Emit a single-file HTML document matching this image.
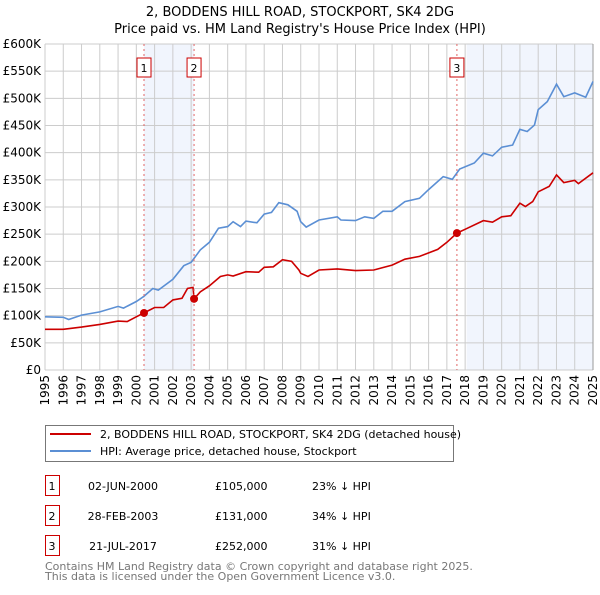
<!DOCTYPE html>
<html><head><meta charset="utf-8"><style>
body{margin:0;background:#fff;width:600px;height:590px;overflow:hidden}
svg text{font-family:"DejaVu Sans","Liberation Sans",sans-serif}
</style></head><body>
<svg id="chart" width="600" height="590" xmlns="http://www.w3.org/2000/svg">
<text x="300" y="16" font-size="13" text-anchor="middle">2, BODDENS HILL ROAD, STOCKPORT, SK4 2DG</text>
<text x="300" y="33" font-size="13" text-anchor="middle">Price paid vs. HM Land Registry's House Price Index (HPI)</text>
<g id="shade"></g><g id="grid"></g><g id="lines"></g><g id="marks"></g>
<g>
<rect x="45.5" y="425.5" width="408" height="36" fill="#fff" stroke="#777"/>
<line x1="50" y1="434" x2="91" y2="434" stroke="#cc0000" stroke-width="2"/>
<text x="100" y="438" font-size="11">2, BODDENS HILL ROAD, STOCKPORT, SK4 2DG (detached house)</text>
<line x1="50" y1="451" x2="91" y2="451" stroke="#5b8fd4" stroke-width="2"/>
<text x="100" y="455" font-size="11">HPI: Average price, detached house, Stockport</text>
</g>
<g id="table" font-size="11"></g>
<text x="45" y="570" font-size="11" fill="#777">Contains HM Land Registry data © Crown copyright and database right 2025.</text>
<text x="45" y="580" font-size="11" fill="#777">This data is licensed under the Open Government Licence v3.0.</text>
</svg>
<script>
const yTicks=[0,50,100,150,200,250,300,350,400,450,500,550,600];
const yTickLabels=["£0","£50K","£100K","£150K","£200K","£250K","£300K","£350K","£400K","£450K","£500K","£550K","£600K"];
const xYears=[1995,1996,1997,1998,1999,2000,2001,2002,2003,2004,2005,2006,2007,2008,2009,2010,2011,2012,2013,2014,2015,2016,2017,2018,2019,2020,2021,2022,2023,2024,2025];
const hpiT=[1995,1996,1996.3,1997,1998,1999,1999.3,2000,2000.4,2000.9,2001.2,2002,2002.6,2003,2003.5,2004,2004.5,2005,2005.3,2005.7,2006,2006.6,2007,2007.4,2007.8,2008.3,2008.8,2009,2009.3,2010,2011,2011.2,2012,2012.5,2013,2013.5,2014,2014.7,2015.5,2016,2016.8,2017.3,2017.7,2018.5,2019,2019.5,2020,2020.6,2021,2021.4,2021.8,2022,2022.5,2023,2023.4,2024,2024.6,2025];
const hpiV=[98,97,93,101,107,117,114,126,135,150,147,167,192,198,221,235,261,264,273,264,274,271,287,290,308,304,292,273,263,276,282,276,275,282,279,292,292,310,316,332,356,351,370,381,399,394,410,414,443,439,451,479,494,526,503,510,502,531];
const priceT=[1995,1996,1997,1998,1999,1999.5,2000,2000.42,2001,2001.5,2002,2002.5,2002.8,2003.1,2003.16,2003.5,2004,2004.6,2005,2005.3,2006,2006.7,2007,2007.5,2008,2008.5,2008.9,2009,2009.4,2010,2011,2012,2013,2014,2014.7,2015.5,2016.5,2017,2017.55,2018,2019,2019.5,2020,2020.5,2021,2021.3,2021.7,2022,2022.6,2023,2023.4,2024,2024.2,2025];
const priceV=[75,75,79,84,90,89,98,105,115,115,129,132,150,152,131,144,155,172,175,173,181,180,189,190,203,200,184,178,172,184,186,183,184,193,204,209,222,235,252,259,275,272,282,284,307,301,310,328,338,359,345,349,343,363];
const saleT=[2000.42,2003.16,2017.55];
const saleV=[105,131,252];
const saleLabels=["1","2","3"];
const saleDates=["02-JUN-2000","28-FEB-2003","21-JUL-2017"];
const salePrices=["£105,000","£131,000","£252,000"];
const saleDiff=["23% ↓ HPI","34% ↓ HPI","31% ↓ HPI"];
const NS="http://www.w3.org/2000/svg";
const X0=45,X1=593,Y0=370,Y1=44;
const xs=t=>X0+(t-1995)/30*(X1-X0);
const ys=v=>Y0-v/600*(Y0-Y1);
function mk(tag,attrs,parent){const e=document.createElementNS(NS,tag);for(const k in attrs)e.setAttribute(k,attrs[k]);parent.appendChild(e);return e;}
const shade=document.getElementById('shade'),grid=document.getElementById('grid'),lines=document.getElementById('lines'),marks=document.getElementById('marks'),table=document.getElementById('table');
let s1=mk('rect',{x:xs(saleT[0]),y:Y1,width:xs(saleT[1])-xs(saleT[0]),height:Y0-Y1,fill:'#eef3fc',opacity:0.8},shade);


let s2=mk('rect',{x:xs(2018.08),y:Y1,width:X1-xs(2018.08),height:Y0-Y1,fill:'#eef3fc',opacity:0.8},shade);


yTicks.forEach((v,i)=>{
 const l=mk('line',{x1:X0,x2:X1,y1:ys(v),y2:ys(v),stroke:'#ccc'},grid);
 
 
 const t=mk('text',{x:X0-4,y:ys(v)+4,'font-size':12,'text-anchor':'end'},grid);
 
 
 t.textContent=yTickLabels[i];
});
xYears.forEach(yr=>{
 const l=mk('line',{x1:xs(yr),x2:xs(yr),y1:Y1,y2:Y0,stroke:'#ccc'},grid);
 
 
 const t=mk('text',{x:0,y:0,'font-size':12,'text-anchor':'end',transform:`translate(${xs(yr)+4},${Y0+5}) rotate(-90)`},grid);
 
 
 t.textContent=yr;
});
function path(T,V,color,name){
 const p=mk('path',{d:T.map((t,i)=>(i?'L':'M')+xs(t).toFixed(1)+','+ys(V[i]).toFixed(1)).join(''),fill:'none',stroke:color,'stroke-width':1.6},lines);
 
 
}
path(hpiT,hpiV,'#5b8fd4','hpi-line');
path(priceT,priceV,'#cc0000','price-paid-line');
saleT.forEach((t,i)=>{
 const l=mk('line',{x1:xs(t),x2:xs(t),y1:Y1,y2:Y0,stroke:'#e06666','stroke-dasharray':'2,3'},marks);
 
 
 const b=mk('rect',{x:xs(t)-7,y:58,width:14,height:19,fill:'#fff',stroke:'#c00'},marks);
 
 
 const tx=mk('text',{x:xs(t),y:72,'font-size':11,'text-anchor':'middle'},marks);
 
 
 tx.textContent=saleLabels[i];
 const c=mk('circle',{cx:xs(t),cy:ys(saleV[i]),r:4,fill:'#cc0000'},marks);
 
 
 const ry=475+i*30;
 const tb=mk('rect',{x:45.5,y:ry+0.5,width:14,height:20,fill:'#fff',stroke:'#c00'},table);
 
 
 const cells=[[52,saleLabels[i],'middle'],[123,saleDates[i],'middle'],[215,salePrices[i],'start'],[312,saleDiff[i],'start']];
 cells.forEach(c2=>{
  const e=mk('text',{x:c2[0],y:ry+15,'text-anchor':c2[2]},table);
  
  
  e.textContent=c2[1];
 });
});
const ax=mk('line',{x1:X1,x2:X1,y1:Y1,y2:Y0,stroke:'#999'},grid);


</script>
</body></html>
